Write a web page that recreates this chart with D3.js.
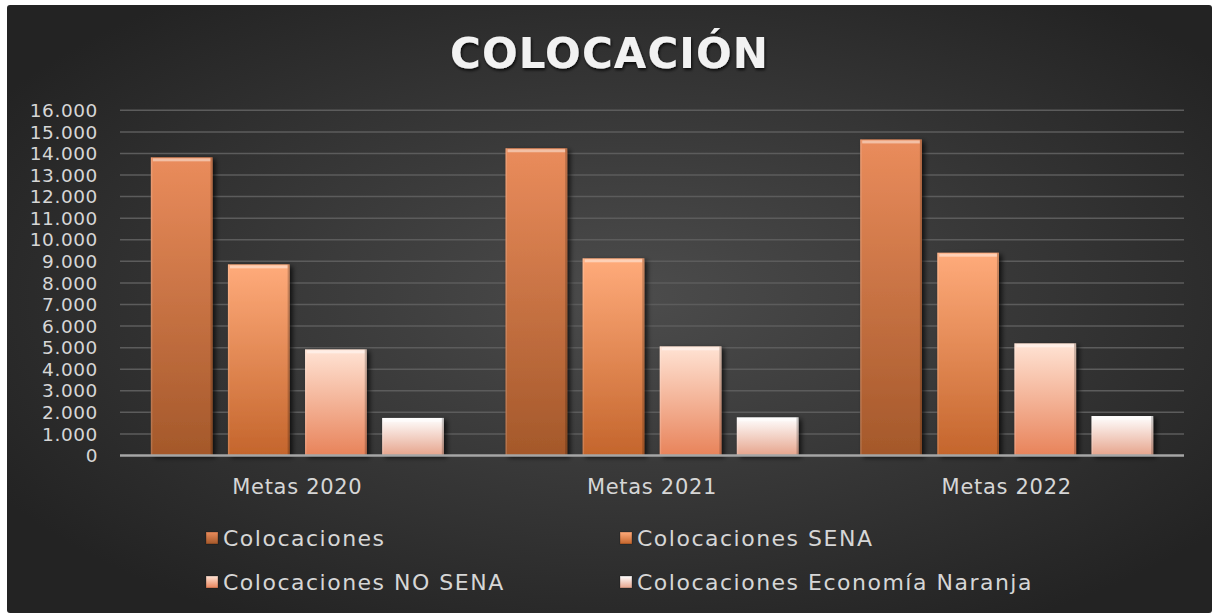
<!DOCTYPE html>
<html>
<head>
<meta charset="utf-8">
<script src="https://cdn.jsdelivr.net/npm/d3@7"></script>
<style>
  html, body { margin: 0; padding: 0; background: #ffffff; }
  svg { display: block; }
  text { font-family: "DejaVu Sans", sans-serif; }
</style>
</head>
<body>
<svg width="1212" height="613"></svg>
<script>
(function (d3) {
    'use strict';

    // data
    const categories = ['Metas 2020', 'Metas 2021', 'Metas 2022'];
    const seriesNames = ['Colocaciones', 'Colocaciones SENA', 'Colocaciones NO SENA', 'Colocaciones Economía Naranja'];
    const colocaciones = [13820, 14240, 14650];
    const colocacionesSena = [8860, 9140, 9400];
    const colocacionesNoSena = [4920, 5060, 5200];
    const colocacionesNaranja = [1740, 1770, 1830];
    const yTicks = d3.range(0, 16001, 1000);

    const seriesValues = [colocaciones, colocacionesSena, colocacionesNoSena, colocacionesNaranja];
    // top / bottom colour of each series gradient
    const seriesColors = [
        ['#ea8c5c', '#a4582a'],
        ['#ffab7b', '#c4652c'],
        ['#ffe3d4', '#e8835a'],
        ['#ffffff', '#e6a48c']
    ];

    const svg = d3.select('svg');
    const defs = svg.append('defs');

    const bg = defs.append('radialGradient')
        .attr('id', 'bg')
        .attr('cx', '52%').attr('cy', '48%').attr('r', '62%');
    bg.append('stop').attr('offset', '0%').attr('stop-color', '#4c4c4c');
    bg.append('stop').attr('offset', '100%').attr('stop-color', '#232323');

    seriesColors.forEach((c, i) => {
        const g = defs.append('linearGradient')
            .attr('id', 'grad' + i)
            .attr('x1', 0).attr('y1', 0).attr('x2', 0).attr('y2', 1);
        g.append('stop').attr('offset', '0%').attr('stop-color', c[0]);
        g.append('stop').attr('offset', '100%').attr('stop-color', c[1]);
    });

    const shadow = defs.append('filter').attr('id', 'shadow')
        .attr('x', '-20%').attr('y', '-20%').attr('width', '150%').attr('height', '150%');
    shadow.append('feDropShadow')
        .attr('dx', 3).attr('dy', 2).attr('stdDeviation', 2.5)
        .attr('flood-color', '#000').attr('flood-opacity', 0.7);

    const titleShadow = defs.append('filter').attr('id', 'tshadow');
    titleShadow.append('feDropShadow')
        .attr('dx', 1).attr('dy', 2).attr('stdDeviation', 1.5)
        .attr('flood-color', '#000').attr('flood-opacity', 0.8);

    // chart area
    svg.append('rect')
        .attr('x', 7).attr('y', 5)
        .attr('width', 1212 - 7).attr('height', 613 - 5)
        .attr('rx', 3)
        .attr('fill', 'url(#bg)');

    svg.append('text')
        .attr('x', 609).attr('y', 68)
        .attr('text-anchor', 'middle')
        .attr('font-size', 42)
        .attr('font-weight', 'bold')
        .attr('fill', '#f2f2f2')
        .attr('textLength', 318)
        .attr('lengthAdjust', 'spacing')
        .attr('filter', 'url(#tshadow)')
        .text('COLOCACIÓN');

    const x0 = d3.scaleBand()
        .domain(categories)
        .range([120, 1184]);

    const x1 = d3.scaleBand()
        .domain(seriesNames)
        .range([0, x0.bandwidth()])
        .paddingInner(0.2)
        .paddingOuter(0.4);

    const y = d3.scaleLinear()
        .domain([0, 16000])
        .range([455.5, 110.3]);

    const fmt = d3.formatLocale({decimal: ',', thousands: '.', grouping: [3], currency: ['$', '']}).format(',d');

    // gridlines
    svg.append('g')
        .selectAll('line').data(yTicks.filter(d => d !== 0))
        .enter().append('line')
        .attr('x1', 120).attr('x2', 1184)
        .attr('y1', d => y(d)).attr('y2', d => y(d))
        .attr('stroke', '#5c5c5c')
        .attr('stroke-width', 1.5);

    // y labels
    svg.append('g')
        .selectAll('text').data(yTicks)
        .enter().append('text')
        .attr('x', 98)
        .attr('y', d => y(d))
        .attr('dy', '0.36em')
        .attr('text-anchor', 'end')
        .attr('font-size', 18.5)
        .attr('letter-spacing', 0.6)
        .attr('fill', '#d6d6d6')
        .text(fmt);

    // bars
    const rows = [];
    categories.forEach((c, ci) => {
        seriesNames.forEach((s, si) => {
            rows.push({cat: c, series: s, si, value: seriesValues[si][ci]});
        });
    });

    const bars = svg.append('g')
        .selectAll('g').data(rows)
        .enter().append('g')
        .attr('transform', d => `translate(${x0(d.cat) + x1(d.series)},0)`);

    bars.append('rect')
        .attr('x', 0)
        .attr('y', d => y(d.value))
        .attr('width', x1.bandwidth())
        .attr('height', d => y(0) - y(d.value))
        .attr('fill', d => `url(#grad${d.si})`)
        .attr('filter', 'url(#shadow)');

    // bevel: light top edge, darker sides
    bars.append('rect')
        .attr('x', 2)
        .attr('y', d => y(d.value) + 1)
        .attr('width', x1.bandwidth() - 4)
        .attr('height', 3)
        .attr('fill', '#ffffff')
        .attr('opacity', 0.45);
    bars.append('rect')
        .attr('x', x1.bandwidth() - 2)
        .attr('y', d => y(d.value))
        .attr('width', 2)
        .attr('height', d => y(0) - y(d.value))
        .attr('fill', '#000')
        .attr('opacity', 0.2);
    bars.append('rect')
        .attr('x', 0)
        .attr('y', d => y(d.value))
        .attr('width', 1.5)
        .attr('height', d => y(0) - y(d.value))
        .attr('fill', '#fff')
        .attr('opacity', 0.15);

    // axis line
    svg.append('line')
        .attr('x1', 120).attr('x2', 1184)
        .attr('y1', y(0)).attr('y2', y(0))
        .attr('stroke', '#a6a6a6')
        .attr('stroke-width', 2.5);

    // category labels
    svg.append('g')
        .selectAll('text').data(categories)
        .enter().append('text')
        .attr('x', d => x0(d) + x0.bandwidth() / 2)
        .attr('y', 494)
        .attr('text-anchor', 'middle')
        .attr('font-size', 21)
        .attr('letter-spacing', 0.7)
        .attr('fill', '#d6d6d6')
        .text(d => d);

    // legend
    const legendPos = [[206, 538], [620, 538], [206, 582], [620, 582]];
    const legend = svg.append('g')
        .selectAll('g').data(seriesNames)
        .enter().append('g')
        .attr('transform', (d, i) => `translate(${legendPos[i][0]},${legendPos[i][1]})`);

    legend.append('rect')
        .attr('x', 0).attr('y', -6)
        .attr('width', 12).attr('height', 12)
        .attr('fill', (d, i) => `url(#grad${i})`)
        .attr('stroke', '#00000055')
        .attr('stroke-width', 0.8);

    legend.append('text')
        .attr('x', 17)
        .attr('dy', '0.36em')
        .attr('font-size', 22)
        .attr('letter-spacing', 1.5)
        .attr('fill', '#d6d6d6')
        .text(d => d);

}(d3));
</script>
</body>
</html>
